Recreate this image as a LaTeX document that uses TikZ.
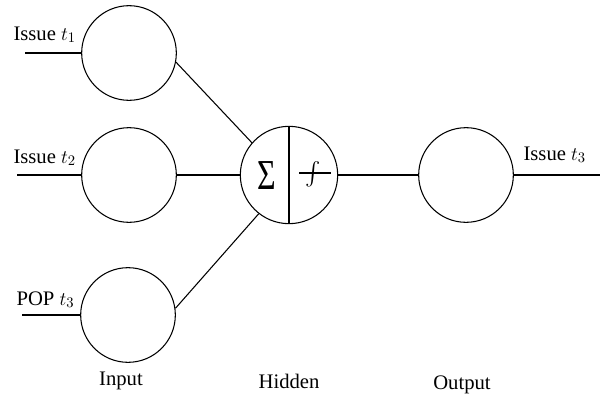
\documentclass[tikz,border=0pt]{standalone}
\usepackage{amsmath}
\usepackage{fontspec}
\setmainfont{Liberation Serif}

\begin{document}
\begin{tikzpicture}[x=0.75pt, y=-0.75pt, thick,
    unit/.style={circle, draw, inner sep=0pt, minimum size=71pt},
    lbl/.style={inner sep=0pt, anchor=base west, font=\fontsize{15.5}{18}\selectfont},
    layer/.style={inner sep=0pt, anchor=base, font=\fontsize{15.5}{18}\selectfont}]
    \useasboundingbox (0,0) rectangle (602,400);
    \node[unit] (I1) at (129,53) {};
    \node[unit] (I2) at (129,175) {};
    \node[unit] (I3) at (128,315) {};
    \node[unit, minimum size=73pt] (H) at (289,175) {};
    \node[unit] (O) at (466,175) {};
    \coordinate (x1) at (25,53);
    \coordinate (x2) at (17,175);
    \coordinate (x3) at (22,315);
    \coordinate (y3) at (600,175);
    \draw (x1) -- (I1);
    \draw (x2) -- (I2);
    \draw (x3) -- (I3);
    \draw (I1.-11) -- (H.139);
    \draw (I2) -- (H);
    \draw (I3.8) -- (H.-128);
    \draw (H) -- (O);
    \draw (O) -- (y3);
    \draw (H.north) -- (H.south);
    \node[inner sep=0pt, xscale=0.75, font=\fontsize{32}{34}\selectfont] (sig) at (267,176) {Σ};
    \node[inner sep=0pt, font=\fontsize{17.5}{20}\selectfont] (act) at (313,174) {$\int$};
    \draw (299,173) -- (331,173);
    \node[lbl] (l1) at (13,40) {Issue $t_1$};
    \node[lbl] (l2) at (13,163) {Issue $t_2$};
    \node[lbl] (l3) at (16,305) {POP $t_3$};
    \node[lbl] (l4) at (523,160) {Issue $t_3$};
    \node[layer] (cin) at (121,385) {Input};
    \node[layer] (chid) at (289,388) {Hidden};
    \node[layer] (cout) at (462,389) {Output};
\end{tikzpicture}
\end{document}
